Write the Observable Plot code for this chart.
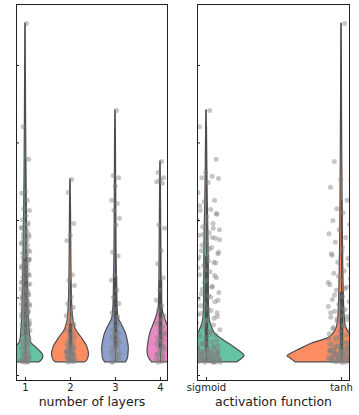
<!DOCTYPE html>
<html><head><meta charset="utf-8">
<script src="https://cdn.jsdelivr.net/npm/d3@7"></script>
<script src="https://cdn.jsdelivr.net/npm/@observablehq/plot@0.6"></script>
<style>
body{margin:0;background:#fff;}
#wrap{position:relative;width:359px;height:415px;font-family:"DejaVu Sans",sans-serif;}
#left,#right{position:absolute;top:0;}
#left{left:0}#right{left:180px}
</style></head><body><div id="wrap"><div id="left"></div><div id="right"></div></div>
<script>
// ---- data ----
const layerCategories = ["1","2","3","4"];
const activationCategories = ["sigmoid","tanh"];
const yTicks = [0,100,200,300,400];
const layerLabel = "number of layers";
const activationLabel = "activation function";
const layerColors = ["#66c2a5","#fc8d62","#8da0cb","#e78ac3"];
const activationColors = ["#66c2a5","#fc8d62"];

const layer1Values = [454,321,279,237,235,226,215,213,206,201,197,195,191,187,183,179,175,172,168,164,160,156,152,148,144,141,137,133,129,125,121,117,115,112,110,107,104,102,99,97,94,92,89,86,84,81,79,76,74,71,68,66,63,61,58,55,53,50,48,45,44,43,41,40,39,37,36,35,34,32,31,30,28,27,26,25,23,22,21,19,18,17,25,23,21,19,18,17,20,22,60,65,70,75,80,85,90,95,100,105,110,120,130,140,150,98,103,108,113,118,123,127,131,135,139,143,146,150,154,158,162,166,170,174,178,182,186,190,194,62,67,72,77,82,87,92,57,52,47,42];
const layer2Values = [253,236,196,181,174,130,123,116,101,93,88,84,77,74,70,66,62,58,55,53,50,48,45,44,41,40,39,37,36,35,34,32,31,30,28,27,26,25,23,22,21,19,18,17,37,34,30,26,22,18,20,24,28,19,21,23,25,27,29,31,33];
const layer3Values = [342,258,255,244,226,222,213,203,194,159,154,129,123,110,101,93,86,81,76,71,67,63,59,55,53,50,48,45,43,40,37,35,32,30,27,25,22,19,17,39,34,28,23,18,46,54];
const layer4Values = [276,262,255,253,250,248,194,190,161,144,126,110,97,90,84,77,72,67,63,59,55,52,49,46,44,41,39,36,34,31,28,26,23,21,18,17,37,32,27,22,45,53];
const sigmoidValues = [342,321,279,262,257,257,255,254,249,236,226,224,217,214,213,208,205,201,196,192,188,184,181,177,173,169,165,161,157,154,150,146,142,138,134,130,126,123,119,115,111,107,103,99,95,92,88,84,80,76,72,68,65,62,59,57,54,52,49,46,44,41,39,36,35,34,32,31,30,28,27,26,25,23,22,21,19,18,17,17,19,22,25,27,30,32,37,43,48,53,219,209,199,187,178,168,159,148,139,129,120,110,101,90,81,71,200,190,182,175,163,153,145,136,124,114,105,97,86,78,74,66,60,56,50,45,42,38,18,20,21,23,24,26,27,29,30,31,33,34,36,38,40,17,19,21,22,24,26,28,29,31,33,35,18,20,23,25,27,29,32,34,17,19,22,24];
const tanhValues = [454,276,253,253,243,226,215,214,210,200,195,188,183,178,172,169,160,157,151,146,139,135,132,125,123,117,114,110,106,102,98,95,92,89,85,83,80,77,75,72,70,67,65,62,59,57,54,52,49,46,44,41,40,39,37,36,35,34,32,31,30,28,27,26,25,23,22,21,19,18,17,17,19,22,25,27,30,32,35,37,40,43,46,190,165,155,143,128,120,112,104,96,87,81,76,73,68,64,60,56,50,47,42,38,18,20,21,23,24,26,27,29,30,31,33,34,36,38,17,19,21,22,24,26,28,29,31,33,35,18,20,23,25,27,29,32,17,19,22,24];

// violin density profiles: [value, density]
const layer1Violin = [[17,14],[18,15],[22,17.5],[26,17.7],[32,14],[39,8],[43,5.5],[52,4.5],[71,3.5],[97,2.8],[135,2.2],[161,1.8],[226,1.2],[290,0.8],[355,0.5],[419,0.3],[454,0.2]];
const layer2Violin = [[17,14.5],[19,16.5],[23,18],[28,18.5],[34,17.5],[39,16],[44,13.5],[49,11],[54,8],[59,5.5],[65,4],[71,2.8],[84,2],[97,1.5],[123,1.1],[161,0.8],[200,0.6],[226,0.4],[253,0.2]];
const layer3Violin = [[17,10.5],[18,11],[22,12.5],[28,13],[36,13.3],[45,12.2],[54,10.5],[62,7.7],[71,4],[77,2.8],[90,2],[110,1.6],[135,1.3],[161,1],[226,0.7],[290,0.5],[342,0.2]];
const layer4Violin = [[17,8.5],[18,9],[22,11.3],[28,12.7],[36,12.7],[45,11.7],[54,10.3],[62,8],[71,5.3],[80,3],[88,1.8],[103,1.3],[135,1],[187,0.7],[239,0.4],[276,0.2]];
const sigmoidViolin = [[17,31],[21,35],[25,38],[28,36.5],[32,32.5],[36,28],[43,20],[49,13],[55,8],[62,5.5],[71,3.4],[84,2.6],[110,2.3],[148,2.2],[174,2],[200,1.6],[226,1.2],[264,0.8],[303,0.5],[342,0.2]];
const tanhViolin = [[17,46],[22,51],[25,54],[28,50.5],[32,44.5],[36,38],[41,30],[45,20],[49,12],[54,8],[62,4.7],[71,3.5],[84,2.8],[110,2.2],[135,1.8],[161,1.5],[200,1.2],[252,0.9],[316,0.6],[381,0.4],[454,0.2]];

// ---- drawing ----
function panel(cfg){
  const pts = [], vio = [], boxes = [];
  cfg.values.forEach((vals, c) => {
    vals.forEach((v, i) => pts.push({c, v, x: c + ((((i + 1) * 0.6180339887) % 1) - 0.5) * 0.2}));
    cfg.violins[c].forEach(([v, d]) => vio.push({c, v, lo: c - d / cfg.k, hi: c + d / cfg.k, color: cfg.colors[c]}));
    const s = vals.slice().sort(d3.ascending);
    const q1 = d3.quantile(s, 0.25), q3 = d3.quantile(s, 0.75), iqr = q3 - q1;
    const lo = d3.min(s.filter(v => v >= q1 - 1.5 * iqr)), hi = d3.max(s.filter(v => v <= q3 + 1.5 * iqr));
    boxes.push({c, q1, q3, lo, hi});
  });
  return Plot.plot({
    width: cfg.width, height: 415,
    marginLeft: cfg.ml, marginRight: cfg.mr, marginTop: 4, marginBottom: 35,
    style: {fontFamily: "DejaVu Sans", fontSize: "10px", color: "#222", background: "white", overflow: "visible"},
    x: {domain: cfg.xDomain},
    y: {domain: [-6.45, 478.6]},
    color: {type: "identity"},
    marks: [
      Plot.areaX(vio, {y: "v", x1: "lo", x2: "hi", z: "c", fill: "color", stroke: "#4d4d4d", strokeWidth: 1.2, curve: "catmull-rom", clip: true}),
      Plot.ruleX(boxes, {x: "c", y1: "lo", y2: "hi", stroke: "#4d4d4d", strokeWidth: 1.2}),
      Plot.ruleX(boxes, {x: "c", y1: "q1", y2: "q3", stroke: "#4d4d4d", strokeWidth: 3.5}),
      Plot.dot(pts, {x: "x", y: "v", r: 2.5, fill: "gray", fillOpacity: 0.45, clip: true}),
      Plot.frame({stroke: "#222", strokeWidth: 1}),
      Plot.axisY(yTicks, {tickSize: -3, tickFormat: () => "", label: null}),
      Plot.axisX(cfg.cats.map((_, i) => i), {tickSize: -3, tickPadding: 6, tickFormat: i => cfg.cats[i], label: null, fontSize: 10}),
      Plot.text([cfg.label], {frameAnchor: "bottom", dy: 21, fontSize: 12.5, lineAnchor: "middle", text: d => d, fill: "#222"})
    ]
  });
}

document.getElementById("left").append(panel({
  cats: layerCategories, values: [layer1Values, layer2Values, layer3Values, layer4Values],
  violins: [layer1Violin, layer2Violin, layer3Violin, layer4Violin], colors: layerColors,
  k: 45, xDomain: [-0.2, 3.156], width: 175, ml: 16, mr: 8, label: layerLabel
}));
document.getElementById("right").append(panel({
  cats: activationCategories, values: [sigmoidValues, tanhValues],
  violins: [sigmoidViolin, tanhViolin], colors: activationColors,
  k: 135, xDomain: [-0.0667, 1.059], width: 179, ml: 17, mr: 10, label: activationLabel
}));
</script></body></html>
